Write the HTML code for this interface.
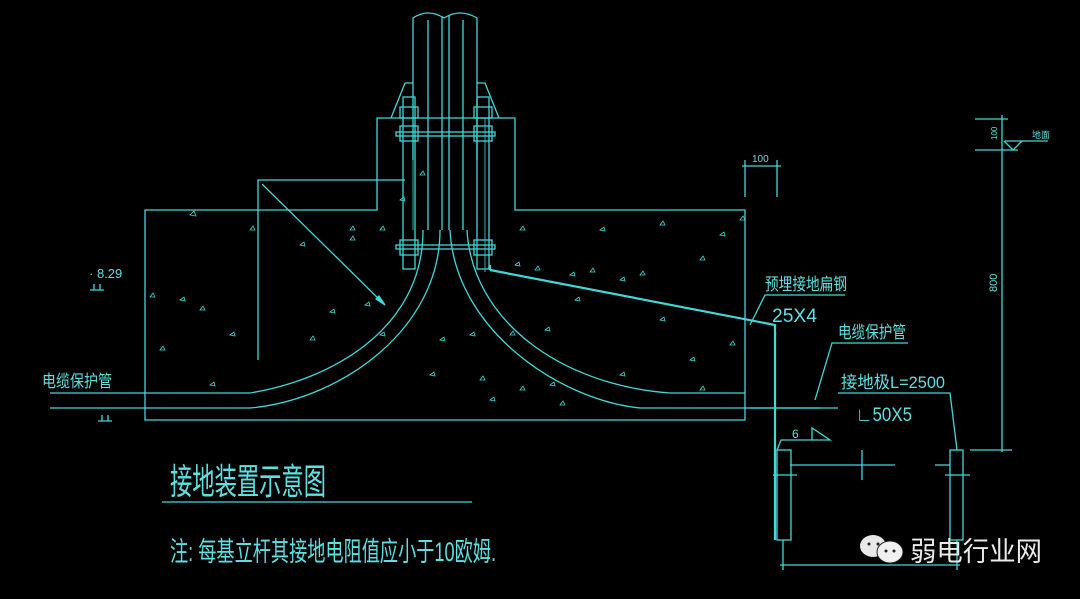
<!DOCTYPE html>
<html><head><meta charset="utf-8"><style>
html,body{margin:0;padding:0;background:#000;}
svg{display:block}
text{font-family:"Liberation Sans","Noto Sans CJK SC",sans-serif;fill:#5fe0e0}
</style></head><body>
<svg width="1080" height="599" viewBox="0 0 1080 599" xmlns="http://www.w3.org/2000/svg">
<rect width="1080" height="599" fill="#000"/>
<g stroke="#40d8d8" stroke-width="1.3" fill="none">
<!-- foundation outline -->
<path d="M145,210 H377 V118 H515 V210 H745 V420 H145 Z"/>
<!-- pole -->
<path d="M413,160 V18 Q428,8 444,18 Q460,8 477,18 V160"/>
<line x1="428" y1="20" x2="428" y2="230"/>
<line x1="442" y1="16" x2="442" y2="230"/>
<line x1="449" y1="16" x2="449" y2="230"/>
<line x1="463" y1="20" x2="463" y2="230"/>
<line x1="413" y1="160" x2="413" y2="230" stroke-width="0.8"/>
<line x1="477" y1="160" x2="477" y2="230" stroke-width="0.8"/>
<!-- chamfer collar -->
<path d="M391,118 L405,83 H413"/>
<path d="M499,118 L485,83 H477"/>
<!-- bolts -->
<rect x="403" y="97" width="12" height="172"/>
<rect x="477" y="97" width="12" height="172"/>
<rect x="400" y="107" width="18" height="11"/>
<rect x="474" y="107" width="18" height="11"/>
<rect x="400" y="126" width="18" height="15"/>
<rect x="474" y="126" width="18" height="15"/>
<rect x="400" y="240" width="18" height="15"/>
<rect x="474" y="240" width="18" height="15"/>
<rect x="396" y="132" width="99" height="4"/>
<rect x="396" y="245" width="99" height="4"/>
<!-- cable pipes -->
<path d="M50,393 H250 C330,380 423,330 423,230"/>
<path d="M50,408 H250 C340,400 440,330 440,230"/>
<path d="M450,230 C455,330 560,400 640,408 H820"/>
<path d="M467,230 C472,320 560,385 670,393 H745"/>
<!-- radius dim -->
<path d="M258,360 V180 H405"/>
<line x1="262" y1="184" x2="385" y2="305"/>
<path d="M385,305 l-6,-9 l-3,3 z" fill="#40d8d8"/>
<!-- flat steel -->
<path d="M490,270 L775,325 V540" stroke-width="2.2"/>
<path d="M490,265 L490,270" stroke-width="2"/>
<path d="M485,118 V272" stroke-width="0.8"/>
<!-- ground rods -->
<rect x="777" y="450" width="14" height="90"/>
<rect x="950" y="450" width="13" height="90"/>
<path d="M777,450 L781,440 H830 L812,428 V440"/>
<line x1="773" y1="475" x2="797" y2="475"/>
<line x1="945" y1="475" x2="970" y2="475"/>
<line x1="790" y1="465" x2="895" y2="465"/>
<line x1="935" y1="465" x2="950" y2="465"/>
<line x1="862" y1="450" x2="862" y2="480"/>
<line x1="783" y1="540" x2="783" y2="570"/>
<line x1="957" y1="540" x2="957" y2="570"/>
<line x1="780" y1="565" x2="960" y2="565"/>
<!-- leaders -->
<path d="M845,295 H765 L750,325"/>
<path d="M908,343 H832 L815,400"/>
<path d="M838,393 H950 L957,450"/>
<line x1="750" y1="408" x2="838" y2="408"/>
<!-- 100 top dim -->
<line x1="745" y1="160" x2="745" y2="197"/>
<line x1="777" y1="160" x2="777" y2="197"/>
<line x1="742" y1="166" x2="781" y2="166"/>
<!-- right dim -->
<line x1="1002" y1="115" x2="1002" y2="452"/>
<line x1="975" y1="119" x2="1008" y2="119"/>
<line x1="975" y1="150" x2="1018" y2="150"/>
<line x1="970" y1="450" x2="1012" y2="450"/>
<line x1="1005" y1="141" x2="1048" y2="141"/>
<path d="M1004,141 L1013,150 L1022,141"/>
<!-- elevation marks -->
<path d="M90,290 H104 M94,290 V284 M100,290 V284"/>
<path d="M98,421 H112 M102,421 V415 M108,421 V415"/>
<!-- title underline -->
<line x1="162" y1="502" x2="472" y2="502"/>
</g>
<!-- concrete speckles -->
<g stroke="#40d8d8" stroke-width="0.8" fill="none">
<path d="M190,215 l4,-4 l2,5z M250,230 l3,-4 l2,4z M300,245 l4,-3 l1,4z M350,240 l3,-4 l2,4z M180,300 l4,-3 l1,4z M200,310 l3,-4 l2,4z M230,335 l4,-3 l1,4z M310,340 l3,-4 l2,4z M380,335 l4,-3 l1,4z M210,385 l4,-3 l1,4z M150,297 l3,-4 l2,4z M160,350 l3,-4 l2,4z M365,305 l4,-3 l1,4z M330,312 l4,-3 l1,4z M350,230 l3,-4 l2,4z M420,175 l3,-4 l2,4z M400,200 l4,-3 l1,4z M380,230 l3,-4 l2,4z"/>
<path d="M440,340 l4,-3 l1,4z M480,380 l3,-4 l2,4z M430,375 l4,-3 l1,4z M520,390 l3,-4 l2,4z M490,400 l4,-3 l1,4z M550,385 l4,-3 l1,4z M560,405 l3,-4 l2,4z M470,335 l4,-3 l1,4z M510,335 l3,-4 l2,4z M545,330 l4,-3 l1,4z"/>
<path d="M515,265 l4,-3 l1,4z M535,270 l3,-4 l2,4z M570,275 l4,-3 l1,4z M590,272 l3,-4 l2,4z M620,280 l4,-3 l1,4z M640,275 l3,-4 l2,4z M575,300 l4,-3 l1,4z M520,230 l3,-4 l2,4z M600,230 l4,-3 l1,4z M660,225 l3,-4 l2,4z M720,235 l4,-3 l1,4z M700,260 l3,-4 l2,4z M690,360 l4,-3 l1,4z M730,345 l3,-4 l2,4z M620,375 l4,-3 l1,4z M700,390 l3,-4 l2,4z M660,320 l4,-3 l1,4z M740,220 l3,-4 l2,4z"/>
</g>
<!-- texts -->
<text x="42" y="387" font-size="17" textLength="70" lengthAdjust="spacingAndGlyphs">电缆保护管</text>
<text x="89" y="278" font-size="13">· 8.29</text>
<text x="752" y="162" font-size="10">100</text>
<text x="765" y="290" font-size="17" textLength="82" lengthAdjust="spacingAndGlyphs">预埋接地扁钢</text>
<text x="772" y="322" font-size="19" textLength="45" lengthAdjust="spacingAndGlyphs">25X4</text>
<text x="838" y="338" font-size="17" textLength="68" lengthAdjust="spacingAndGlyphs">电缆保护管</text>
<text x="841" y="388" font-size="17" textLength="104" lengthAdjust="spacingAndGlyphs">接地极L=2500</text>
<text x="856" y="421" font-size="19" textLength="56" lengthAdjust="spacingAndGlyphs">∟50X5</text>
<text x="792" y="438" font-size="12">6</text>
<text x="1032" y="138" font-size="9">地面</text>
<text transform="translate(997,292) rotate(-90)" font-size="11">800</text>
<text transform="translate(997,140) rotate(-90)" font-size="8">100</text>
<text x="170" y="494" font-size="36" textLength="156" lengthAdjust="spacingAndGlyphs">接地装置示意图</text>
<text x="170" y="561" font-size="27" textLength="326" lengthAdjust="spacingAndGlyphs">注:  每基立杆其接地电阻值应小于10欧姆.</text>
<!-- watermark -->
<g>
<ellipse cx="873" cy="546" rx="13" ry="11" fill="#e8e8e8"/>
<ellipse cx="890" cy="552" rx="13" ry="11" fill="#f0f0f0" stroke="#222" stroke-width="1"/>
<circle cx="869" cy="544" r="1.5" fill="#222"/><circle cx="878" cy="544" r="1.5" fill="#222"/>
<circle cx="886" cy="551" r="1.5" fill="#222"/><circle cx="894" cy="551" r="1.5" fill="#222"/>
<text x="910" y="561" font-size="27" style="fill:#eaeaea" textLength="132" lengthAdjust="spacingAndGlyphs">弱电行业网</text>
</g>
</svg>
</body></html>
